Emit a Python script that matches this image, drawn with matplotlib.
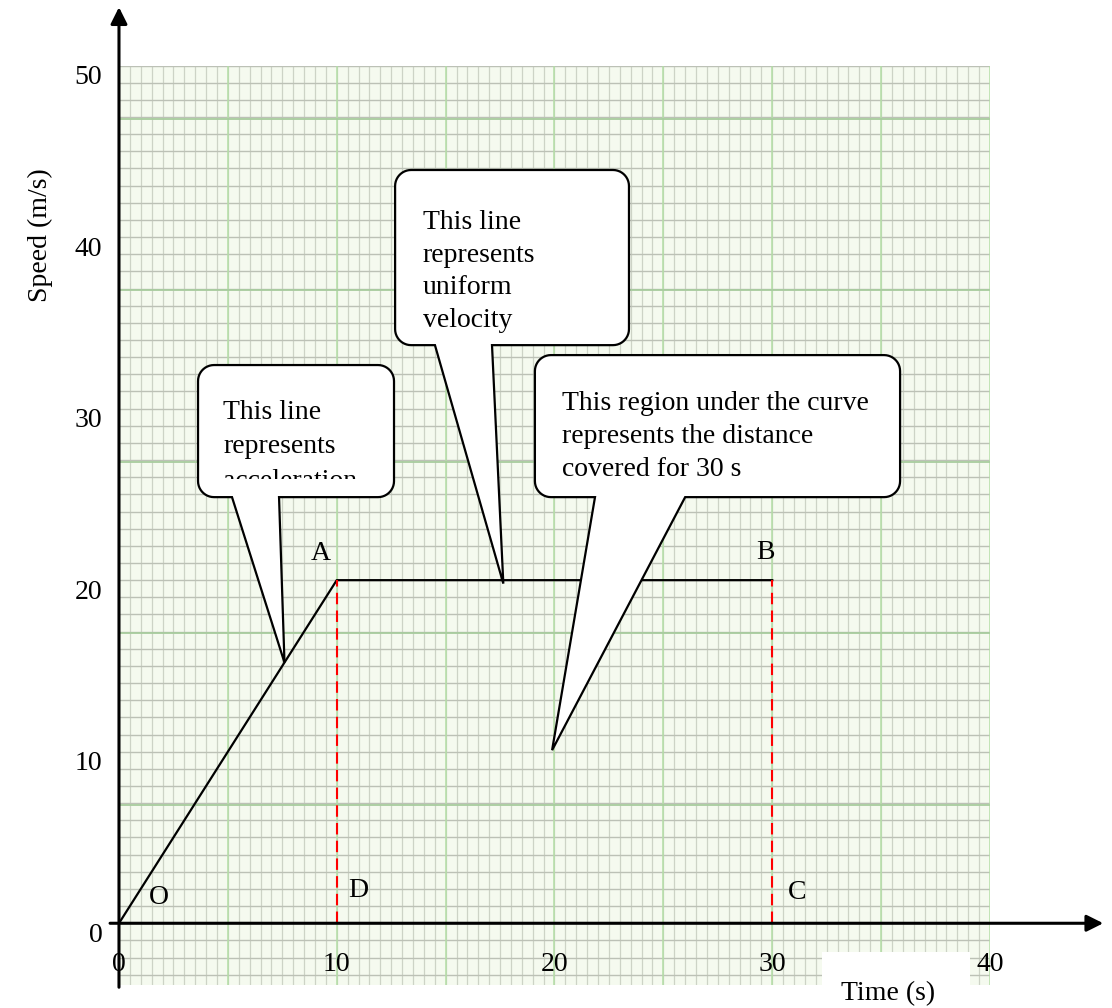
import numpy as np
import matplotlib.pyplot as plt
from matplotlib.patches import Polygon, Rectangle
from matplotlib.transforms import Bbox, TransformedBbox

plt.rcParams['font.family'] = ['Liberation Serif', 'DejaVu Serif']
FS = 20

# speed-time graph
time_s = [0, 10, 30]
speed = [0, 20, 20]
drop_x = [10, 30]              # red dashed drops to the time axis
drop_top = [20, 20]
x_ticks = [0, 10, 20, 30, 40]
y_ticks = [0, 10, 20, 30, 40, 50]
point_names = ['O', 'A', 'B', 'D', 'C']
point_xy = [(1.84, 1.52), (9.28, 21.57), (29.67, 21.63), (10.98, 1.92), (31.14, 1.81)]

# callouts: box (x0, x1, y0, y1), tail base (left, right), tip, text anchor, text
callout_box = [(3.63, 12.63, 24.84, 32.54),
               (12.68, 23.42, 33.70, 43.91),
               (19.10, 35.87, 24.84, 33.12)]
callout_base = [(5.19, 7.35), (14.51, 17.13), (21.86, 26.00)]
callout_tip = [(7.6, 15.2), (17.65, 19.8), (19.89, 10.09)]
callout_text_xy = [(4.78, 27.77), (13.96, 38.0), (20.34, 28.37)]
callout_spacing = [1.5, 1.4, 1.42]
callout_text = ['This line\nrepresents\nacceleration',
                'This line\nrepresents\nuniform\nvelocity',
                'This region under the curve\nrepresents the distance\ncovered for 30 s']

fig = plt.figure(figsize=(11.12, 10.08), dpi=100)
ax = fig.add_axes([0.1070, 0.0228, 0.7833, 0.9122])
ax.set_xlim(0, 40)
ax.set_ylim(-3.6, 50)
ax.set_facecolor('#f5faef')
for s in ax.spines.values():
    s.set_visible(False)
ax.set_xticks([])
ax.set_yticks([])

# graph paper
ax.vlines(np.arange(0.5, 40, 0.5), -3.6, 50, color='#cdd3c6', lw=0.9, zorder=0)
ax.hlines(np.arange(-3, 50.5, 1.0), 0, 40, color='#bcc1b6', lw=1.0, zorder=0)
ax.vlines(np.arange(5, 41, 5), -3.6, 50, color='#b4dea6', lw=1.1, zorder=0)
ax.hlines(np.arange(6.9, 50, 10), 0, 40, color='#a8cc9e', lw=1.3, zorder=0)

# white patch behind the time label
ax.add_patch(Rectangle((32.29, -3.6), 6.8, 1.91, facecolor='white', edgecolor='none', zorder=1))

# axes with arrows
ax.annotate('', xy=(45.2, 0), xytext=(-0.41, 0), annotation_clip=False,
            arrowprops=dict(arrowstyle='-|>,head_length=0.4,head_width=0.2', lw=2.2,
                            color='black', mutation_scale=25, shrinkA=0, shrinkB=0), zorder=5)
ax.annotate('', xy=(0, 53.4), xytext=(0, -3.73), annotation_clip=False,
            arrowprops=dict(arrowstyle='-|>,head_length=0.4,head_width=0.2', lw=2.2,
                            color='black', mutation_scale=25, shrinkA=0, shrinkB=0), zorder=5)

for v in x_ticks:
    ax.annotate(str(v), xy=(v, 0), xytext=(0, -30), textcoords='offset points',
                ha='center', va='center', fontsize=FS, annotation_clip=False, zorder=6)
for v in y_ticks:
    ax.annotate(str(v), xy=(0, v), xytext=(-12, -8.6), textcoords='offset points',
                ha='right', va='center', fontsize=FS, annotation_clip=False, zorder=6)

ax.text(35.32, -4.08, 'Time (s)', ha='center', va='center', fontsize=FS, clip_on=False)
fig.text(40 / 1112, 1 - 235 / 1008, 'Speed (m/s)', rotation=90, ha='center', va='center', fontsize=FS)

# the graph
ax.plot(time_s, speed, color='black', lw=1.6, zorder=3)
ax.vlines(drop_x, 0, drop_top, color='red', lw=1.5, linestyles=(0, (5.5, 3)), zorder=3)
for name, (px, py) in zip(point_names, point_xy):
    ax.text(px, py, name, ha='center', va='center', fontsize=FS, zorder=4)

# callouts
rx, ry = 16 / 21.78, 16 / 17.155


def arc(cx, cy, a0, a1):
    t = np.radians(np.linspace(a0, a1, 12))
    return list(zip(cx + rx * np.cos(t), cy + ry * np.sin(t)))


for (x0, x1, y0, y1), (bl, br), tip, txy, sp, txt in zip(callout_box, callout_base, callout_tip,
                                                        callout_text_xy, callout_spacing, callout_text):
    pts = [(br, y0)]
    pts += arc(x1 - rx, y0 + ry, 270, 360)
    pts += arc(x1 - rx, y1 - ry, 0, 90)
    pts += arc(x0 + rx, y1 - ry, 90, 180)
    pts += arc(x0 + rx, y0 + ry, 180, 270)
    pts += [(bl, y0), tip]
    ax.add_patch(Polygon(pts, closed=True, facecolor='white', edgecolor='black',
                         lw=1.6, joinstyle='miter', zorder=7))
    t = ax.text(txy[0], txy[1], txt, ha='left', va='center', fontsize=FS,
                linespacing=sp, zorder=8)
    if txt.endswith('acceleration'):
        t.set_clip_box(TransformedBbox(Bbox([[x0, 25.9], [x1, y1]]), ax.transData))
        t.set_clip_on(True)

fig.savefig('out.png', dpi=100)
